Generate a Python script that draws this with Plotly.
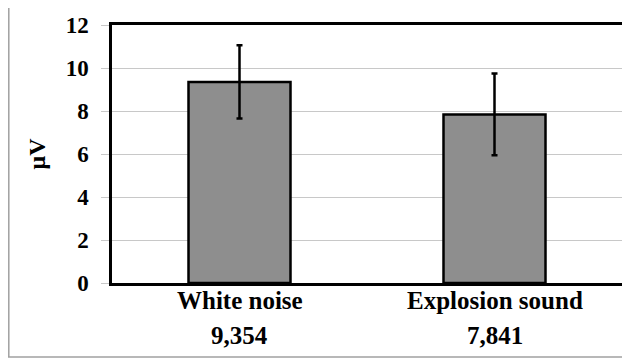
import plotly.graph_objects as go

categories = ["White noise", "Explosion sound"]
means = [9.354, 7.841]
errors = [1.70, 1.90]
mean_labels = ["9,354", "7,841"]
y_ticks = [0, 2, 4, 6, 8, 10, 12]

FONT = "Liberation Serif"

# page is drawn with an 8px body offset; layout values are in figure pixels
W, H = 630, 360
L, R, T, B = 104, 16, 17, 85
pw, ph = W - L - R, H - T - B


def px_x(p):
    return (p - L) / pw


def px_y(p):
    return (H - B - p) / ph


fig = go.Figure()
fig.add_trace(go.Bar(
    x=categories, y=means,
    marker=dict(color="#8e8e8e", line=dict(color="black", width=2.5)),
    error_y=dict(type="data", array=errors, visible=True, color="black", thickness=2.5, width=3),
    width=0.4,
))

annotations = []
for c, lab in zip(categories, mean_labels):
    annotations.append(dict(x=c, y=px_y(292.5), xref="x", yref="paper", text=c, showarrow=False,
                            yanchor="middle", xanchor="center",
                            font=dict(family=FONT, size=25, color="black", weight="bold")))
    annotations.append(dict(x=c, y=px_y(327.5), xref="x", yref="paper", text=lab, showarrow=False,
                            yanchor="middle", xanchor="center",
                            font=dict(family=FONT, size=25, color="black", weight="bold")))

fig.update_layout(
    width=W, height=H,
    margin=dict(l=L, r=R, t=T, b=B, autoexpand=False),
    paper_bgcolor="white", plot_bgcolor="white",
    showlegend=False,
    annotations=annotations,
    shapes=[
        dict(type="line", xref="paper", yref="paper", x0=px_x(0.8), x1=px_x(0.8), y0=px_y(0), y1=px_y(349),
             line=dict(color="#a0a0a0", width=1.5)),
        dict(type="line", xref="paper", yref="paper", x0=px_x(0), x1=px_x(618), y0=px_y(349), y1=px_y(349),
             line=dict(color="#a0a0a0", width=1.5)),
    ],
    xaxis=dict(showticklabels=False, showline=True, mirror=True, linecolor="black", linewidth=2.5,
               ticks="", showgrid=False, automargin=False),
    yaxis=dict(range=[0, 12], tickvals=y_ticks, showline=True, mirror=True, linecolor="black", linewidth=2.5,
               showgrid=True, gridcolor="#c8c8c8", gridwidth=1.3, zeroline=False, automargin=False,
               ticks="outside", ticklen=8, tickcolor="#c8c8c8", tickwidth=1.3,
               ticklabelstandoff=8,
               tickfont=dict(family=FONT, size=23, color="black", weight="bold"),
               title=dict(text="μV", standoff=14,
                          font=dict(family=FONT, size=24, color="black", weight="bold"))),
)

fig.write_html("out.html")
